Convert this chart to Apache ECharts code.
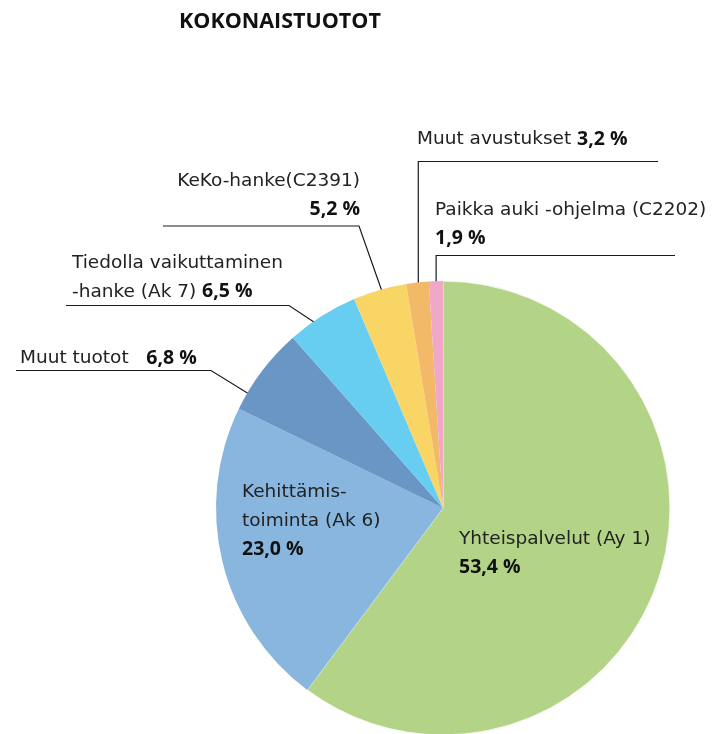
<!DOCTYPE html>
<html>
<head>
<meta charset="utf-8">
<script src="https://cdn.jsdelivr.net/npm/echarts@6/dist/echarts.min.js"></script>
<style>
  html, body { margin: 0; padding: 0; background: #fff; }
  #main { width: 719px; height: 734px; }
</style>
</head>
<body>
<div id="main"></div>
<script>
// categories, clockwise from 12 o'clock
var names = [
  'Yhteispalvelut (Ay 1)',
  'Kehittämis-\ntoiminta (Ak 6)',
  'Muut tuotot',
  'Tiedolla vaikuttaminen\n-hanke (Ak 7)',
  'KeKo-hanke(C2391)',
  'Muut avustukset',
  'Paikka auki -ohjelma (C2202)'
];
// printed percentages
var pctText = ['53,4 %', '23,0 %', '6,8 %', '6,5 %', '5,2 %', '3,2 %', '1,9 %'];
// slice sizes as they are drawn in the picture (%)
var shares = [60.2, 22.0, 6.3, 5.1, 3.8, 1.6, 1.0];
var colors = ['#b3d487', '#88b6df', '#6a96c6', '#67cef2', '#f9d566', '#f2b968', '#f0a7c8'];

var CX = 443, CY = 508, R = 227;

// where each label sits and how its leader line runs
var labelPos = [
  { x: 459, y: 525, align: 'left', sep: '\n' },
  { x: 242, y: 478, align: 'left', sep: '\n' },
  { x: 20, y: 344, align: 'left', sep: '   ', from: [262, 402], elbow: [211, 370.5], end: 16 },
  { x: 72, y: 249, align: 'left', sep: ' ', from: [323, 328], elbow: [289, 305.5], end: 66 },
  { x: 360, y: 167, align: 'right', sep: '\n', from: [384, 297], elbow: [359, 226], end: 163 },
  { x: 417, y: 125, align: 'left', sep: ' ', vert: 161.5, end: 658 },
  { x: 435, y: 196, align: 'left', sep: '\n', vert: 255.5, end: 675 }
];

var chart = echarts.init(document.getElementById('main'));

var data = names.map(function (n, i) {
  var outside = i >= 2;
  return {
    name: n,
    value: shares[i],
    itemStyle: i === 0 ? { color: colors[i], borderColor: '#fff', borderWidth: 0.8 } : { color: colors[i] },
    label: { position: outside ? 'outside' : 'inside' },
    labelLine: { show: outside }
  };
});

var option = {
  animation: false,
  title: {
    text: 'KOKONAISTUOTOT',
    left: 179,
    top: 11,
    padding: 0,
    textStyle: { fontFamily: 'Open Sans', fontWeight: 'bold', fontSize: 21.5, color: '#111' }
  },
  series: [{
    type: 'pie',
    center: [CX, CY],
    radius: R,
    startAngle: 90,
    clockwise: true,
    avoidLabelOverlap: false,
    silent: true,
    data: data,
    label: {
      formatter: function (p) {
        var i = p.dataIndex;
        var sep = labelPos[i].sep;
        var nm = names[i].split('\n').map(function (s) { return '{n|' + s + '}'; }).join('\n');
        var mid = sep === '\n' ? '\n' : '{n|' + sep + '}';
        return nm + mid + '{b|' + pctText[i] + '}';
      },
      rich: {
        n: { fontFamily: 'DejaVu Sans', fontSize: 18.5, color: '#222', lineHeight: 28.5 },
        b: { fontFamily: 'Open Sans', fontSize: 19.5, fontWeight: 'bold', color: '#111', lineHeight: 28.5 }
      }
    },
    labelLine: {
      length: 10,
      length2: 10,
      lineStyle: { color: '#1a1a1a', width: 1.2 }
    },
    labelLayout: function (params) {
      var i = params.dataIndex;
      var lp = labelPos[i];
      var out = { x: lp.x, y: lp.y, align: lp.align, verticalAlign: 'top' };
      var pts = params.labelLinePoints;
      if (pts && (lp.elbow || lp.vert)) {
        var f = (R - 8) / R;
        var p0 = lp.from || [CX + (pts[0][0] - CX) * f, CY + (pts[0][1] - CY) * f];
        var p1, p2;
        if (lp.vert) {
          p1 = [p0[0], lp.vert];
          p2 = [lp.end, lp.vert];
        } else {
          p1 = lp.elbow;
          p2 = [lp.end, lp.elbow[1]];
        }
        out.labelLinePoints = [p0, p1, p2];
      }
      return out;
    }
  }]
};

chart.setOption(option);
</script>
</body>
</html>
